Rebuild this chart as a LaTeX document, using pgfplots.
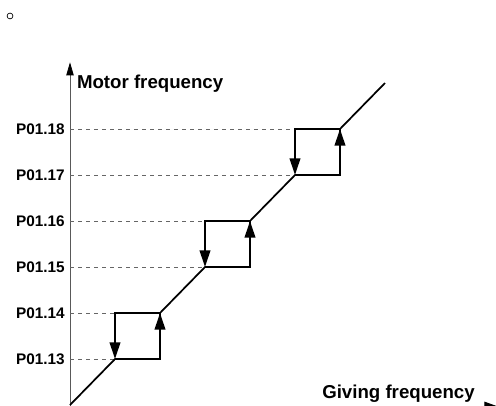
\documentclass[border=0pt]{standalone}
\usepackage{fontspec}
\setmainfont{Liberation Sans}
\usepackage{pgfplots}
\pgfplotsset{compat=1.18}
\usetikzlibrary{arrows.meta}

\begin{document}
\begin{tikzpicture}
\useasboundingbox (-52.5pt,0) rectangle (319.5pt,303.75pt);
\clip (-52.5pt,0) rectangle (319.5pt,303.75pt);
\begin{axis}[
    anchor=origin, at={(0,0)},
    x=33.75pt, y=34.5pt,
    xmin=0, xmax=9.5, ymin=-0.03, ymax=7.45,
    axis lines=left,
    clip=false,
    axis line style={gray!70!black, line width=0.6pt},
    x axis line style={-{Triangle[length=9.75pt,width=7pt,color=black]}},
    y axis line style={-{Triangle[length=9.75pt,width=5.5pt,color=black]}},
    xtick=\empty,
    ytick={1,2,3,4,5,6},
    yticklabels={P01.13,P01.14,P01.15,P01.16,P01.17,P01.18},
    major tick length=0pt,
    yticklabel style={inner sep=0pt, xshift=-3.75pt, font=\bfseries\fontsize{11.5}{12}\selectfont},
]
% dashed guide lines
\addplot[gray!80!black, dashed, line width=0.5pt] coordinates {(0,1) (1,1)};
\addplot[gray!80!black, dashed, line width=0.5pt] coordinates {(0,2) (1,2)};
\addplot[gray!80!black, dashed, line width=0.5pt] coordinates {(0,3) (3,3)};
\addplot[gray!80!black, dashed, line width=0.5pt] coordinates {(0,4) (3,4)};
\addplot[gray!80!black, dashed, line width=0.5pt] coordinates {(0,5) (5,5)};
\addplot[gray!80!black, dashed, line width=0.5pt] coordinates {(0,6) (5,6)};
% rising path
\addplot[black, line width=1.3pt, line join=miter] coordinates {
    (0,0) (1,1) (2,1) (2,2) (3,3) (4,3) (4,4) (5,5) (6,5) (6,6) (7,7)};
% up arrows
\addplot[black, line width=1.3pt, -{Triangle[length=12.5pt,width=8pt]}] coordinates {(2,1) (2,2)};
\addplot[black, line width=1.3pt, -{Triangle[length=12.5pt,width=8pt]}] coordinates {(4,3) (4,4)};
\addplot[black, line width=1.3pt, -{Triangle[length=12.5pt,width=8pt]}] coordinates {(6,5) (6,6)};
% falling branches
\addplot[black, line width=1.3pt, line join=miter, -{Triangle[length=12.5pt,width=8pt]}] coordinates {(2,2) (1,2) (1,1)};
\addplot[black, line width=1.3pt, line join=miter, -{Triangle[length=12.5pt,width=8pt]}] coordinates {(4,4) (3,4) (3,3)};
\addplot[black, line width=1.3pt, line join=miter, -{Triangle[length=12.5pt,width=8pt]}] coordinates {(6,6) (5,6) (5,5)};
% labels
\node[anchor=west, inner sep=0pt, font=\bfseries\fontsize{14}{16}\selectfont] at (axis cs:0.15,6.98) {Motor frequency};
\node[anchor=base west, inner sep=0pt, font=\bfseries\fontsize{14}{16}\selectfont] at (axis cs:5.6,0.15) {Giving frequency};
\draw[line width=0.5pt] (axis cs:-1.333,8.457) circle[radius=2.2pt];
\end{axis}
\end{tikzpicture}
\end{document}
